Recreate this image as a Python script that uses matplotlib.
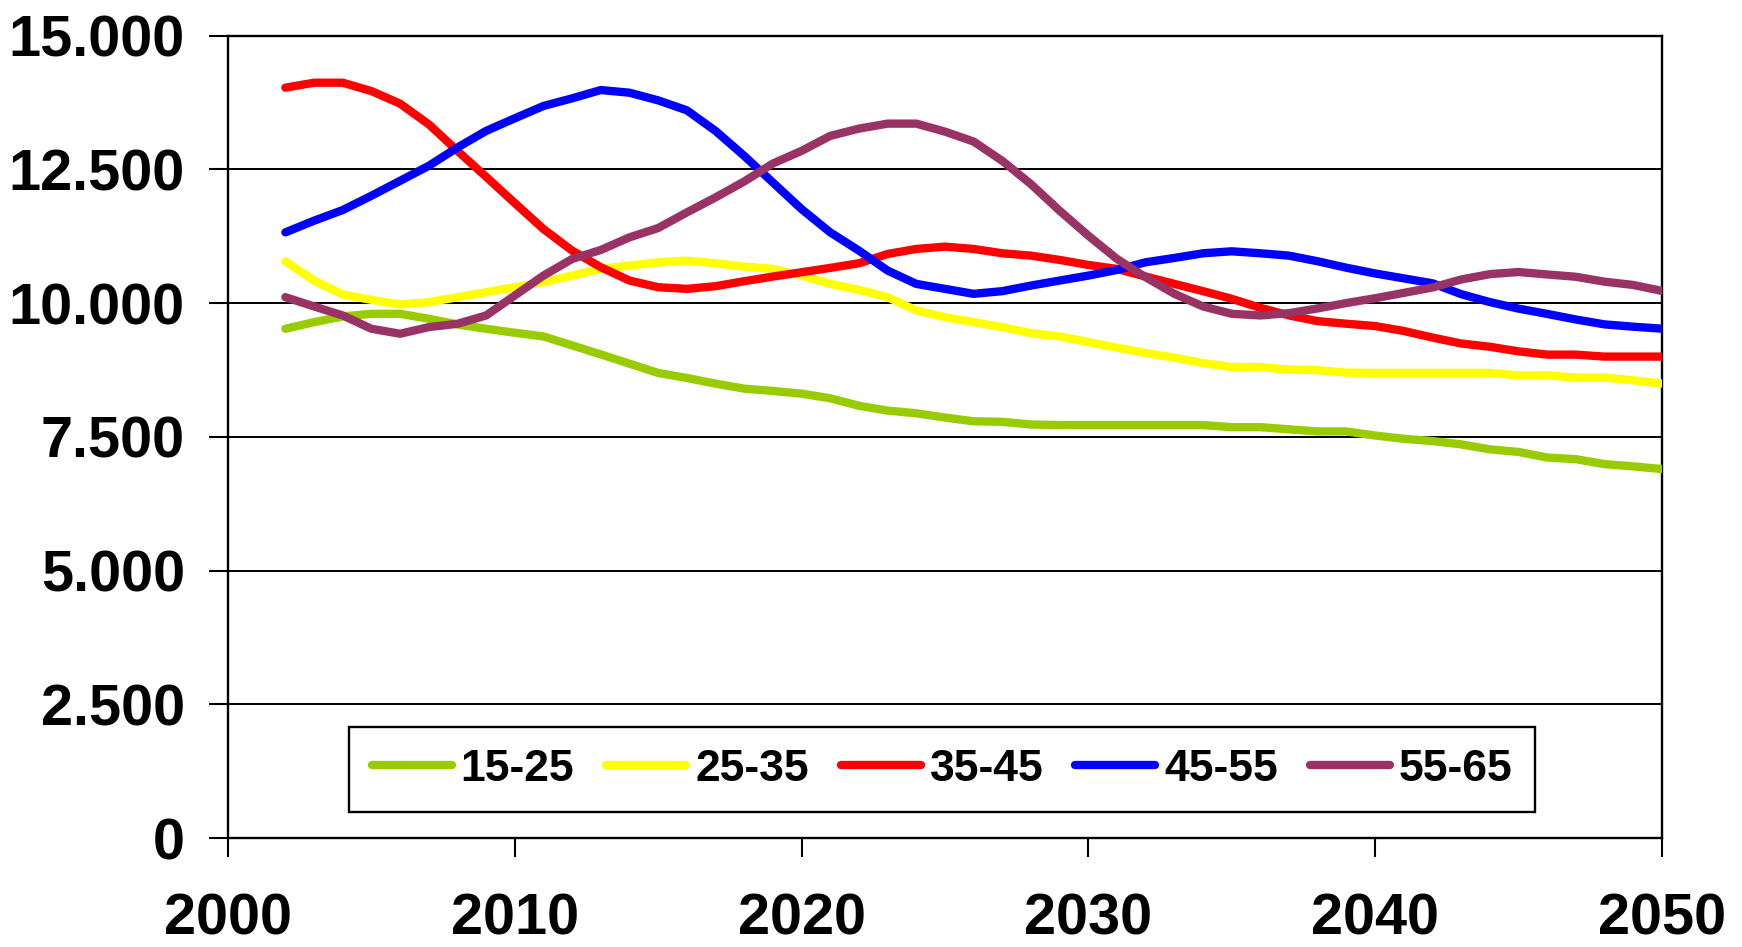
import matplotlib

matplotlib.use("Agg")

import matplotlib.pyplot as plt
from matplotlib import font_manager
from matplotlib.ticker import FuncFormatter

years = list(range(2002, 2051))

age_15_25 = [
    9519, 9643, 9750, 9799, 9799, 9706, 9600, 9519, 9445, 9376,
    9208, 9040, 8867, 8693, 8600, 8494, 8400, 8357, 8307, 8220,
    8080, 7990, 7940, 7860, 7790, 7780, 7730, 7720, 7720, 7720,
    7720, 7720, 7720, 7680, 7680, 7640, 7600, 7600, 7524, 7463,
    7420, 7359, 7266, 7217, 7113, 7082, 6990, 6947, 6898,
]
age_25_35 = [
    10781, 10420, 10159, 10060, 9973, 10016, 10109, 10203, 10296, 10389,
    10513, 10638, 10700, 10762, 10793, 10743, 10681, 10638, 10513, 10358,
    10246, 10110, 9861, 9737, 9643, 9550, 9438, 9376, 9271, 9165,
    9066, 8979, 8879, 8805, 8805, 8755, 8745, 8700, 8695, 8695,
    8695, 8695, 8695, 8649, 8649, 8606, 8606, 8557, 8495,
]
age_35_45 = [
    14025, 14118, 14118, 13962, 13726, 13341, 12844, 12359, 11868, 11383,
    10980, 10669, 10420, 10296, 10265, 10315, 10408, 10495, 10576, 10657,
    10743, 10917, 11011, 11054, 11011, 10930, 10886, 10806, 10712, 10638,
    10495, 10358, 10222, 10079, 9911, 9768, 9662, 9613, 9570, 9478,
    9355, 9244, 9183, 9097, 9036, 9036, 8999, 8999, 8999,
]
age_45_55 = [
    11321, 11539, 11738, 12005, 12284, 12564, 12906, 13217, 13453, 13683,
    13826, 13981, 13931, 13788, 13602, 13217, 12750, 12253, 11756, 11321,
    10980, 10607, 10358, 10265, 10172, 10222, 10327, 10420, 10513, 10619,
    10762, 10843, 10930, 10967, 10930, 10886, 10780, 10660, 10553, 10461,
    10369, 10166, 10018, 9896, 9797, 9693, 9601, 9558, 9521,
]
age_55_65 = [
    10110, 9936, 9768, 9519, 9426, 9550, 9612, 9768, 10141, 10513,
    10824, 10992, 11228, 11402, 11694, 11974, 12272, 12608, 12844, 13124,
    13260, 13353, 13353, 13204, 13018, 12657, 12222, 11725, 11259, 10824,
    10482, 10172, 9936, 9799, 9768, 9811, 9900, 10000, 10090, 10190,
    10290, 10440, 10540, 10580, 10534, 10491, 10399, 10338, 10227,
]

labels = ["15-25", "25-35", "35-45", "45-55", "55-65"]
series = [age_15_25, age_25_35, age_35_45, age_45_55, age_55_65]
colors = ["#99CC00", "#FFFF00", "#FF0000", "#0000FF", "#993366"]

x_ticks = [2000, 2010, 2020, 2030, 2040, 2050]
y_ticks = [0, 2500, 5000, 7500, 10000, 12500, 15000]

# the source uses a tall, slightly condensed bold face; use the narrow
# Liberation cut when it is there, otherwise the regular one
installed = {f.name for f in font_manager.fontManager.ttflist}
if "Liberation Sans Narrow" in installed:
    family = ["Liberation Sans Narrow", "DejaVu Sans"]
    tick_size, leg_size = 49, 37
else:
    family = ["Liberation Sans", "DejaVu Sans"]
    tick_size, leg_size = 41.5, 32

plt.rcParams["font.family"] = family
plt.rcParams["font.weight"] = "bold"

fig = plt.figure(figsize=(17.42, 9.47), dpi=100)
ax = fig.add_axes([0.1309, 0.1150, 0.954 - 0.1309, 0.9625 - 0.1150])

for vals, lab, col in zip(series, labels, colors):
    ax.plot(years, vals, color=col, lw=6.0, label=lab,
            solid_capstyle="round", solid_joinstyle="round", zorder=3)

ax.set_xlim(2000, 2050)
ax.set_ylim(0, 15000)
ax.set_xticks(x_ticks)
ax.set_yticks(y_ticks)
ax.yaxis.set_major_formatter(
    FuncFormatter(lambda v, _: f"{int(v):,}".replace(",", "."))
)
ax.grid(axis="y", color="black", lw=1.4, zorder=1)
ax.grid(axis="x", visible=False)

for side in ["left", "right", "bottom", "top"]:
    ax.spines[side].set_color("black")
    ax.spines[side].set_linewidth(1.7)

ax.tick_params(axis="y", direction="out", length=14, width=1.5,
               labelsize=tick_size, pad=17)
ax.tick_params(axis="x", direction="out", length=14, width=1.5,
               labelsize=tick_size, pad=25)
for t in ax.get_xticklabels() + ax.get_yticklabels():
    t.set_fontweight("bold")

leg = ax.legend(
    loc="center", bbox_to_anchor=(0.498, 0.0857), ncol=5,
    fontsize=leg_size, frameon=True, fancybox=False, shadow=False,
    handlelength=1.8, handletextpad=0.2, columnspacing=0.72,
    borderpad=0.5, framealpha=1.0,
)
leg.get_frame().set_edgecolor("black")
leg.get_frame().set_linewidth(1.7)
for t in leg.get_texts():
    t.set_fontweight("bold")

fig.savefig("out.png", dpi=100, facecolor="white")
